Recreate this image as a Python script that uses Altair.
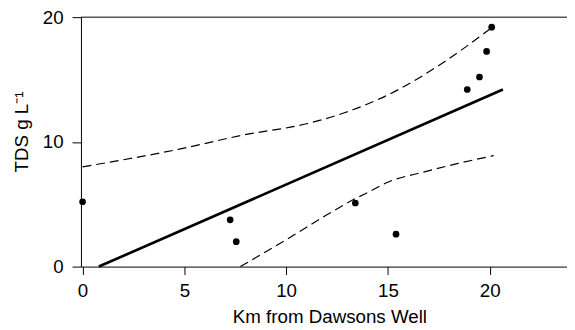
import altair as alt
import pandas as pd

# observed points
km = [0.0, 7.25, 7.55, 13.4, 15.4, 18.9, 19.5, 19.85, 20.1]
tds = [5.2, 3.75, 2.0, 5.1, 2.6, 14.2, 15.2, 17.25, 19.2]

# regression line
reg_x = [0.8, 20.65]
reg_y = [0.0, 14.2]

# upper confidence band
up_x = [0.0, 4.7, 7.9, 11.0, 12.9, 15.35, 17.8, 20.05]
up_y = [8.0, 9.4, 10.55, 11.45, 12.35, 14.05, 16.45, 19.1]

# lower confidence band
lo_x = [7.75, 10.3, 12.0, 13.4, 14.2, 14.9, 16.8, 18.4, 20.2]
lo_y = [0.0, 2.45, 4.15, 5.45, 6.1, 6.7, 7.6, 8.25, 8.9]

x_ticks = [0, 5, 10, 15, 20]
y_ticks = [0, 10, 20]

FONT = "Liberation Sans"

pts = pd.DataFrame({"x": km, "y": tds})
reg = pd.DataFrame({"x": reg_x, "y": reg_y})
up = pd.DataFrame({"x": up_x, "y": up_y})
lo = pd.DataFrame({"x": lo_x, "y": lo_y})

xscale = alt.Scale(domain=[-0.08, 23.8], nice=False, zero=False)
yscale = alt.Scale(domain=[0, 20], nice=False)

xax = alt.Axis(values=x_ticks, title="Km from Dawsons Well", grid=False,
               domainColor="black", tickColor="black", tickSize=8,
               labelPadding=7, labelFontSize=19, labelFont=FONT, labelColor="black",
               titleFont=FONT, titleFontSize=19, titleFontWeight="normal", titleColor="black",
               titleX=252, titleY=57, titleBaseline="alphabetic", titleAlign="center")
yax = alt.Axis(values=y_ticks, title="TDS g L⁻¹", grid=False,
               domainColor="black", tickColor="black", tickSize=9,
               labelPadding=9, labelFontSize=19, labelFont=FONT, labelColor="black",
               titleFont=FONT, titleFontSize=19, titleFontWeight="normal", titleColor="black",
               titleAngle=-90, titleX=-54, titleY=116, titleBaseline="alphabetic",
               titleAlign="center")

base_x = alt.X("x:Q", scale=xscale, axis=xax)
base_y = alt.Y("y:Q", scale=yscale, axis=yax)

top_rule = alt.Chart(pd.DataFrame({"y": [20]})).mark_rule(color="black", strokeWidth=1).encode(
    y=alt.Y("y:Q", scale=yscale, axis=yax)
)

reg_line = alt.Chart(reg).mark_line(color="black", strokeWidth=2.7).encode(
    x=base_x, y=base_y, order="x:Q"
)
up_line = alt.Chart(up).mark_line(color="black", strokeWidth=1.2, strokeDash=[9, 5],
                                  interpolate="monotone").encode(x=base_x, y=base_y, order="x:Q")
lo_line = alt.Chart(lo).mark_line(color="black", strokeWidth=1.2, strokeDash=[9, 5],
                                  interpolate="monotone").encode(x=base_x, y=base_y, order="x:Q")
points = alt.Chart(pts).mark_circle(color="black", opacity=1, size=46).encode(
    x=base_x, y=base_y
)

chart = alt.layer(top_rule, up_line, lo_line, reg_line, points).properties(
    width=493, height=253,
    autosize=alt.AutoSizeParams(type="none"),
    padding={"left": 74, "top": 7, "right": 0, "bottom": 60},
    background="white",
).configure_view(stroke=None).configure_axis(labelFontSize=19, titleFontSize=19)

chart.save("out.html", embed_options={"renderer": "svg", "actions": False})
